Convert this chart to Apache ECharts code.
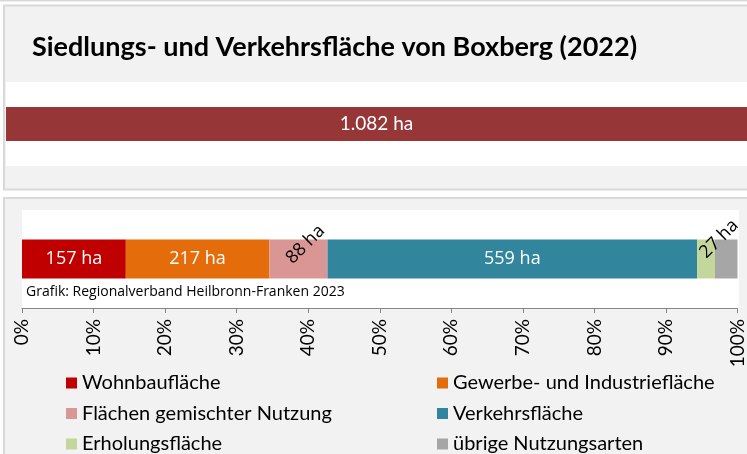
<!DOCTYPE html>
<html>
<head>
<meta charset="utf-8">
<script src="https://cdn.jsdelivr.net/npm/echarts@6/dist/echarts.min.js"></script>
<style>
  html, body { margin: 0; padding: 0; background: #ffffff; }
  #chart { width: 747px; height: 454px; }
</style>
</head>
<body>
<div id="chart"></div>
<script>
// Siedlungs- und Verkehrsfläche von Boxberg, Stand 2022 (in ha)
const titleText = 'Siedlungs- und Verkehrsfläche von Boxberg (2022)';
const sourceText = 'Grafik: Regionalverband Heilbronn-Franken 2023';

const totalArea = 1082;
const totalLabel = '1.082 ha';

const categories = [
  'Wohnbaufläche',
  'Gewerbe- und Industriefläche',
  'Flächen gemischter Nutzung',
  'Verkehrsfläche',
  'Erholungsfläche',
  'übrige Nutzungsarten'
];
const areas = [157, 217, 88, 559, 27, 34];
const colors = ['#c00000', '#e46c0a', '#d99694', '#31859c', '#c3d69b', '#a6a6a6'];

const percentTicks = [0, 10, 20, 30, 40, 50, 60, 70, 80, 90, 100];

// Label placement per segment: white centred text, rotated black text, or none
const labelModes = ['inside', 'inside', 'rotated', 'inside', 'rotated', 'none'];
// shift of the rotated labels from the segment centre (px, screen space)
const rotatedShift = { 2: [7, -14.5], 4: [13, -20] };

const PLOT_WIDTH = 717;
const BAR_HEIGHT = 39;

const chart = echarts.init(document.getElementById('chart'), null, { renderer: 'canvas' });

const sumAreas = areas.reduce((a, b) => a + b, 0);

const stackSeries = categories.map((name, i) => {
  const mode = labelModes[i];
  let label = { show: false };
  if (mode === 'inside') {
    label = {
      show: true,
      position: 'inside',
      color: '#ffffff',
      fontFamily: 'Open Sans',
      fontSize: 18,
      formatter: () => areas[i] + ' ha'
    };
  } else if (mode === 'rotated') {
    const segWidth = areas[i] / sumAreas * PLOT_WIDTH;
    const shift = rotatedShift[i];
    label = {
      show: true,
      position: [segWidth / 2 + shift[0], BAR_HEIGHT / 2 + shift[1]],
      rotate: 45,
      align: 'center',
      verticalAlign: 'middle',
      color: '#000000',
      fontFamily: 'Open Sans',
      fontSize: 18,
      formatter: () => areas[i] + ' ha'
    };
  }
  return {
    name,
    type: 'bar',
    stack: 'share',
    xAxisIndex: 1,
    yAxisIndex: 1,
    barWidth: BAR_HEIGHT,
    itemStyle: { color: colors[i] },
    label,
    labelLayout: { hideOverlap: false },
    emphasis: { disabled: true },
    silent: true,
    data: [areas[i] / sumAreas * 100]
  };
});

const legendTextStyle = {
  fontFamily: 'Lato',
  fontSize: 20,
  color: '#000000',
  lineHeight: 20
};

const option = {
  animation: false,
  textStyle: { fontFamily: 'Lato' },
  title: {
    text: titleText,
    left: 32,
    top: 34,
    padding: 0,
    textStyle: { fontFamily: 'Lato', fontSize: 27, fontWeight: 'bold', color: '#000000' }
  },
  graphic: [
    { type: 'rect', z: -10, shape: { x: 0, y: 0, width: 800, height: 1.5 }, style: { fill: '#d9d9d9' } },
    { type: 'rect', z: -10, shape: { x: 4, y: 5.5, width: 800, height: 184 }, style: { fill: '#f2f2f2', stroke: '#d9d9d9', lineWidth: 2 } },
    { type: 'rect', z: -10, shape: { x: 4, y: 198, width: 800, height: 270 }, style: { fill: '#f2f2f2', stroke: '#d9d9d9', lineWidth: 2 } },
    { type: 'rect', z: -9, shape: { x: 6, y: 82, width: 800, height: 84 }, style: { fill: '#ffffff' } },
    { type: 'rect', z: -9, shape: { x: 22, y: 210, width: PLOT_WIDTH, height: 98 }, style: { fill: '#ffffff' } },
    {
      type: 'text', z: 20, left: 26, top: 285,
      style: { text: sourceText, fontFamily: 'Open Sans', fontSize: 14, fill: '#000000' }
    }
  ],
  legend: [
    {
      data: [categories[0], categories[2], categories[4]],
      orient: 'vertical',
      left: 66, top: 373, padding: 0,
      itemWidth: 11, itemHeight: 11, itemGap: 10.5,
      icon: 'rect',
      selectedMode: false,
      textStyle: legendTextStyle
    },
    {
      data: [categories[1], categories[3], categories[5]],
      orient: 'vertical',
      left: 437, top: 373, padding: 0,
      itemWidth: 11, itemHeight: 11, itemGap: 10.5,
      icon: 'rect',
      selectedMode: false,
      textStyle: legendTextStyle
    }
  ],
  grid: [
    { left: 6, top: 82, width: 747, height: 84, containLabel: false },
    { left: 22, top: 210, width: PLOT_WIDTH, height: 98, containLabel: false }
  ],
  xAxis: [
    { gridIndex: 0, type: 'value', min: 0, max: totalArea, show: false },
    {
      gridIndex: 1, type: 'value', min: 0, max: 100, interval: 10,
      axisLine: { show: true, lineStyle: { color: '#868686', width: 1 } },
      axisTick: { show: true, length: 5, lineStyle: { color: '#868686' } },
      splitLine: { show: false },
      axisLabel: {
        rotate: 90,
        margin: 11,
        fontFamily: 'Lato',
        fontSize: 19,
        color: '#000000',
        formatter: (v) => percentTicks.includes(v) ? v + '%' : ''
      }
    }
  ],
  yAxis: [
    { gridIndex: 0, type: 'category', data: ['Gesamt'], show: false },
    { gridIndex: 1, type: 'category', data: ['Anteile'], show: false }
  ],
  series: [
    {
      name: 'Siedlungs- und Verkehrsfläche',
      type: 'bar',
      xAxisIndex: 0,
      yAxisIndex: 0,
      barWidth: 34,
      itemStyle: { color: '#963637' },
      label: {
        show: true,
        position: 'inside',
        color: '#ffffff',
        fontFamily: 'Lato',
        fontSize: 19,
        formatter: () => totalLabel
      },
      emphasis: { disabled: true },
      silent: true,
      data: [totalArea]
    },
    ...stackSeries
  ]
};

chart.setOption(option);
</script>
</body>
</html>
